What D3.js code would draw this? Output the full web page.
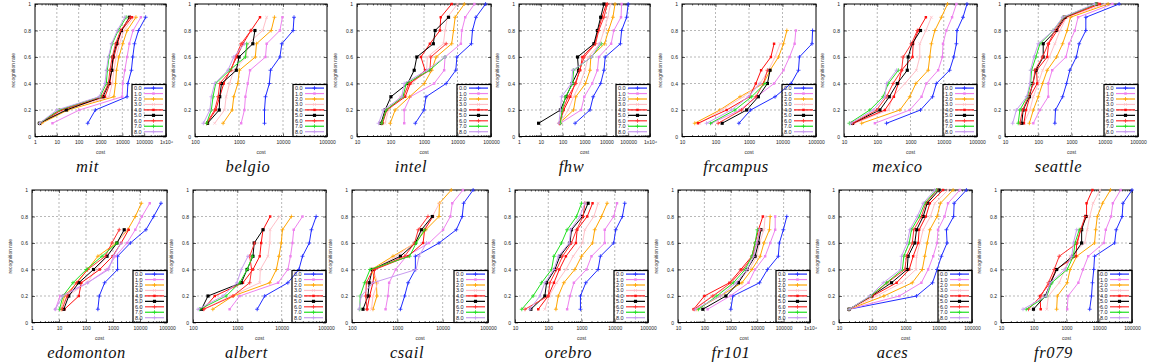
<!DOCTYPE html>
<html>
<head>
<meta charset="utf-8">
<script src="https://cdn.jsdelivr.net/npm/d3@7"></script>
<style>
  body { margin: 0; background: #fff; }
  svg { display: block; }
  .axis text { font-family: "Liberation Sans", Arial, sans-serif; font-size: 5px; fill: #222; }
  .axis path { display: none; }
  .axis line { stroke: #000; stroke-width: 0.6; }
  .axis-label { font-family: "Liberation Sans", Arial, sans-serif; font-size: 5px; fill: #333; }
  .legend text { font-family: "Liberation Sans", Arial, sans-serif; font-size: 5.5px; fill: #223; }
  .map-title { font-family: "Liberation Serif", "Times New Roman", serif; font-style: italic; font-size: 16.5px; fill: #111; letter-spacing: 0.6px; }
</style>
</head>
<body>
<div id="chart"></div>
<script>
// ---- data ----
const mapNames = ["mit", "belgio", "intel", "fhw", "frcampus", "mexico", "seattle",
                  "edomonton", "albert", "csail", "orebro", "fr101", "aces", "fr079"];
const seriesLabels = ["0.0", "1.0", "2.0", "3.0", "4.0", "5.0", "6.0", "7.0", "8.0"];
const rateLevels = [0.1, 0.2, 0.3, 0.4, 0.5, 0.6, 0.7, 0.8, 0.9, 1.0];
const yTicks = [0, 0.2, 0.4, 0.6, 0.8, 1];
const xDomains = [[1, 1e6], [100, 1e5], [10, 1e5], [1, 1e6], [10, 1e5], [10, 1e5], [10, 1e5],
                  [1, 1e5], [100, 1e5], [100, 1e5], [10, 1e5], [10, 1e6], [10, 1e5], [10, 1e5]];

// cost needed for each recognition rate (0.1, 0.2, ...), one row per series 0.0 .. 8.0
const mitCost = [
  [260, 580, 16500, 18000, 26000, 30000, 36000, 55000, 117000],
  [6.3, 107, 9800, 10500, 13000, 16500, 21000, 31000, 71000],
  [2, 32, 4100, 4900, 5400, 6900, 10500, 16500, 42000],
  [1.7, 23, 2450, 3450, 4100, 5200, 7400, 11700, 33000],
  [1.7, 16, 1600, 2700, 3200, 4100, 6000, 9100, 27500],
  [1.6, 27, 1300, 2450, 3300, 3700, 5400, 9100, 21000],
  [1.6, 13.5, 1150, 2300, 2700, 3450, 4900, 8300, 23000],
  [1.6, 12.6, 960, 1860, 2050, 2450, 3450, 6500, 15000],
  [1.6, 10, 870, 1600, 1860, 2300, 3200, 5900, 13000]
];
const belgioCost = [
  [3800, 3800, 4000, 4900, 5200, 8500, 9400, 17000, 17800],
  [1120, 1330, 1400, 1580, 1780, 4000, 4250, 8500, 9700],
  [435, 700, 760, 940, 1020, 2350, 2500, 5400, 6400],
  [280, 470, 510, 610, 760, 1450, 1580, 3450, 4250],
  [190, 295, 365, 450, 630, 890, 1230, 1870, 3000],
  [193, 355, 365, 400, 870, 1000, 2060, 2300],
  [183, 280, 335, 365, 660, 835, 1120, 1870],
  [183, 235, 257, 295, 610, 1400, 1500],
  [155, 218, 235, 280, 560, 760, 1330]
];
const intelCost = [
  [550, 1000, 1150, 4600, 8900, 9600, 26000, 28000, 35500, 69000],
  [257, 257, 390, 2000, 4000, 4250, 12600, 13500, 17000, 32000],
  [98, 138, 370, 1020, 1700, 2300, 6700, 7600, 8500, 16000],
  [69, 87, 195, 435, 1200, 1260, 3800, 4250, 5000, 10000],
  [58, 78, 275, 390, 1080, 810, 1500, 3000, 3160, 6700],
  [52, 69, 103, 325, 510, 610, 1900, 2150, 5400],
  [55, 74, 245, 350, 1500, 1600, 4600],
  [55, 74, 235, 295, 1450, 4250],
  [44, 62, 218, 257, 1200, 4250]
];
const fhwCost = [
  [370, 1780, 2500, 5500, 7800, 8900, 44000, 50000, 85000, 100000],
  [79, 700, 980, 2250, 3900, 4500, 16600, 22000, 47000, 50000],
  [72, 316, 400, 1120, 1780, 1950, 8300, 12600, 20000, 25000],
  [79, 178, 316, 630, 1050, 1480, 5000, 7800, 11700, 15500],
  [72, 112, 224, 370, 630, 800, 2950, 4200, 6300, 10000],
  [7.9, 79, 144, 270, 530, 480, 2700, 3900, 5500, 7800],
  [72, 100, 178, 400, 590, 980, 3200, 4500, 7800, 11000],
  [79, 95, 135, 290, 316, 2100, 5900],
  [67, 79, 89, 250, 290, 2100, 5000]
];
const frcampusCost = [
  [500, 1120, 6000, 18000, 30000, 32000, 76000, 79000],
  [76, 540, 1700, 5600, 10700, 16200, 23000, 25000],
  [24, 135, 540, 2700, 4250, 7600, 10700, 13500],
  [34, 150, 680, 2150, 3800, 6000, 8500],
  [30, 215, 1020, 1600, 2300, 4500, 5600],
  [158, 850, 1900, 3550, 4250],
  [120, 600, 1600, 2700, 3550],
  [71, 380, 1200, 3000],
  [54, 300, 950, 2150]
];
const mexicoCost = [
  [190, 2000, 4600, 6000, 15000, 20000, 24000, 25000, 38000, 50000],
  [85, 950, 2150, 3000, 6800, 9100, 9500, 12000, 17800, 24000],
  [34, 480, 950, 1450, 3400, 3800, 4250, 5400, 8500, 13000],
  [21, 215, 290, 680, 1500, 1900, 1900, 2900, 4250],
  [19, 170, 316, 430, 540, 1150, 1200, 1700, 2900],
  [18, 120, 230, 400, 800, 850, 1120, 2000],
  [18, 95, 190, 300, 540, 600, 1070, 1600],
  [14.5, 60, 150, 215, 430],
  [16, 76, 170, 190, 380]
];
const seattleCost = [
  [316, 330, 540, 710, 890, 1400, 1700, 2700, 2700, 27000],
  [71, 112, 200, 200, 263, 680, 850, 1260, 1580, 17000],
  [54, 71, 100, 135, 186, 355, 540, 740, 930, 12600],
  [37, 56, 71, 100, 135, 215, 316, 450, 710, 10000],
  [37, 43, 56, 93, 89, 186, 205, 370, 680, 7100],
  [32, 35, 54, 68, 85, 141, 141, 340, 630, 5600],
  [28, 34, 50, 71, 79, 135, 200, 316, 590, 6300],
  [25, 28, 47, 59, 63, 85, 112, 280, 560, 5400],
  [17, 22, 45, 56, 59, 74, 100, 280, 540, 5000]
];
const edomontonCost = [
  [275, 310, 490, 1480, 1480, 4400, 16600, 32000, 60000],
  [7.3, 11, 115, 600, 1230, 3300, 6700, 11800, 23000],
  [12, 16, 47, 115, 275, 1320, 3500, 6700, 11200],
  [11, 20, 115, 224, 600, 1400, 3100],
  [16, 54, 67, 320, 970, 2000, 3800],
  [15, 23, 54, 190, 600, 1400, 2600],
  [13, 20, 44, 115, 520, 910, 1700],
  [10.5, 14, 33, 103, 390, 1400],
  [7.3, 13.9, 115, 690, 1040, 2000]
];
const albertCost = [
  [2800, 4150, 13800, 24500, 29500, 42000, 47000, 60000],
  [670, 1130, 8300, 13800, 15800, 17500, 18700, 29500],
  [280, 800, 5400, 7600, 8700, 9800, 10400, 16600],
  [170, 730, 3200, 3300, 4900, 5400, 5500, 8900],
  [170, 310, 1340, 2250, 3200, 3450, 3800, 5500],
  [155, 218, 1230, 1660, 2250, 2400, 3800],
  [175, 800, 1900, 2100, 1900, 2450],
  [141, 560, 1130, 1660, 2200],
  [130, 475, 980, 1230, 1740]
];
const csailCost = [
  [1170, 1450, 1730, 2500, 2500, 8300, 20000, 27000, 29000, 47000],
  [550, 620, 660, 920, 1580, 5000, 10200, 14800, 16300, 28000],
  [290, 355, 345, 270, 800, 2500, 4250, 8300, 8500, 15500],
  [270, 290, 370, 290, 960, 2300, 3800, 5900, 8500],
  [215, 245, 290, 316, 1730, 3700, 4000, 6100],
  [175, 225, 240, 280, 1170, 2500, 3400, 5900],
  [215, 200, 208, 290, 1450, 2400, 2900, 4750],
  [148, 152, 190, 250, 1870, 2600, 4000],
  [143, 160, 290, 2600, 3000, 4400]
];
const orebroCost = [
  [930, 930, 1350, 3160, 3700, 9300, 10700, 17000, 20000],
  [370, 450, 590, 1410, 2000, 5000, 5000, 9300, 11700],
  [170, 200, 295, 630, 1000, 2150, 2500, 4000, 5900],
  [79, 107, 178, 340, 560, 1070, 1260, 2350, 3160],
  [50, 100, 148, 215, 340, 680, 740, 1480, 2150],
  [30, 79, 89, 158, 224, 450, 500, 1070, 1580],
  [20, 100, 112, 178, 270, 500, 710, 1120, 1260],
  [16, 35, 63, 126, 148, 250, 370, 710, 1000],
  [28, 56, 79, 148, 200, 430, 470, 890, 1260]
];
const fr101Cost = [
  [1000, 1200, 12300, 24500, 63000, 69000, 98000, 132000],
  [132, 950, 4700, 8300, 20000, 31000, 48000, 48000],
  [52, 400, 2650, 6300, 13000, 18000, 29000, 31000],
  [41, 190, 1700, 5100, 9600, 12300, 18000, 20000],
  [39, 100, 890, 2400, 6300, 8300, 11200, 16300],
  [87, 650, 1950, 4100, 8300, 11200, 13800],
  [41, 210, 1000, 2900, 6800, 9600, 13000],
  [60, 295, 1260, 3500, 6300, 8300, 10200],
  [45, 400, 1600, 4100, 7300, 9600, 12300]
];
const acesCost = [
  [20, 2150, 6500, 8900, 12000, 17800, 17000, 28000, 29000, 68000],
  [20, 650, 3000, 4800, 6800, 8900, 9500, 15000, 19000, 43000],
  [20, 224, 1600, 3200, 3800, 4500, 5400, 8900, 11200, 27000],
  [20, 135, 760, 2050, 2150, 2700, 3400, 5600, 7600, 19000],
  [20, 102, 540, 1290, 1700, 2400, 2570, 4100, 5400, 13500],
  [20, 95, 380, 1120, 1200, 1900, 2150, 3400, 4500, 10200],
  [20, 95, 280, 960, 1070, 1600, 1780, 3000, 4100, 8900],
  [20, 89, 270, 810, 890, 1290, 1510, 2570, 3800, 8500],
  [20, 85, 215, 710, 760, 1120, 1350, 2250, 3400, 7600]
];
const fr079Cost = [
  [5100, 5800, 6200, 6800, 7200, 29500, 33000, 50000, 53000, 100000],
  [1050, 1120, 2300, 3200, 4600, 13800, 15800, 23000, 26000, 45000],
  [500, 525, 1050, 1290, 2050, 7200, 7800, 8700, 12600, 22000],
  [250, 280, 600, 890, 1290, 3600, 4300, 5100, 6500, 10500],
  [163, 155, 316, 480, 1950, 2050, 2700, 4100, 4100, 6200],
  [98, 224, 330, 500, 1550, 2900, 2900, 3900],
  [69, 166, 280, 420, 600, 2150, 2700, 3700],
  [59, 250, 355, 1050, 1620, 1820, 2450],
  [47, 240, 316, 890, 1450, 1620, 2050]
];

const costsByMap = {
  mit: mitCost, belgio: belgioCost, intel: intelCost, fhw: fhwCost,
  frcampus: frcampusCost, mexico: mexicoCost, seattle: seattleCost,
  edomonton: edomontonCost, albert: albertCost, csail: csailCost,
  orebro: orebroCost, fr101: fr101Cost, aces: acesCost, fr079: fr079Cost
};

// ---- styles / layout ----
const seriesColors = ["#1f2bff", "#ee82ee", "#ffa500", "#ffc0c8", "#ff1010",
                      "#000000", "#ff3030", "#20e020", "#c89cf0"];
const seriesMarks = ["plus", "square", "plus", "times", "square", "square", "plus", "plus", "plus"];

const rowTop = [4, 190];
const plotH = 132.5;
const panelBoxes = [
  { left: 35, width: 131, row: 0 }, { left: 195, width: 132, row: 0 },
  { left: 357, width: 134, row: 0 }, { left: 519, width: 131, row: 0 },
  { left: 682, width: 134, row: 0 }, { left: 844, width: 133, row: 0 },
  { left: 1005, width: 133, row: 0 },
  { left: 32, width: 135, row: 1 }, { left: 193, width: 133, row: 1 },
  { left: 352, width: 136, row: 1 }, { left: 515, width: 133, row: 1 },
  { left: 678, width: 132, row: 1 }, { left: 839, width: 133, row: 1 },
  { left: 1001, width: 131, row: 1 }
];

const svg = d3.select("#chart").append("svg")
  .attr("width", 1166)
  .attr("height", 364);

function symbolFor(k) {
  const m = seriesMarks[k];
  if (m === "plus") return d3.symbol().type(d3.symbolPlus).size(6)();
  if (m === "times") return d3.symbol().type(d3.symbolTimes).size(6)();
  return d3.symbol().type(d3.symbolSquare).size(k === 5 ? 10 : 6)();
}

function drawMarks(sel, k) {
  const mark = seriesMarks[k];
  sel.attr("d", symbolFor(k))
    .attr("fill", mark === "square" ? seriesColors[k] : "none")
    .attr("stroke", seriesColors[k])
    .attr("stroke-width", mark === "square" ? 0 : 0.8);
}

const isDecade = t => Math.abs(Math.log10(t) - Math.round(Math.log10(t))) < 1e-9;
const xFormat = t => t >= 1e6 ? "1x10\u2076" : d3.format("d")(t);

mapNames.forEach((name, i) => {
  const box = panelBoxes[i];
  const g = svg.append("g")
    .attr("transform", `translate(${box.left},${rowTop[box.row]})`);

  const x = d3.scaleLog().domain(xDomains[i]).range([0, box.width]);
  const y = d3.scaleLinear().domain([0, 1]).range([plotH, 0]);

  const allTicks = x.ticks();
  const major = allTicks.filter(isDecade);
  const minor = allTicks.filter(t => !isDecade(t));

  // grid
  g.append("g").selectAll("line")
    .data(major.slice(1, -1))
    .join("line")
    .attr("x1", d => x(d)).attr("x2", d => x(d))
    .attr("y1", 0).attr("y2", plotH)
    .attr("stroke", "#9a9a9a").attr("stroke-width", 0.7)
    .attr("stroke-dasharray", "2,2");
  g.append("g").selectAll("line")
    .data(yTicks.slice(1, -1))
    .join("line")
    .attr("x1", 0).attr("x2", box.width)
    .attr("y1", d => y(d)).attr("y2", d => y(d))
    .attr("stroke", "#9a9a9a").attr("stroke-width", 0.7)
    .attr("stroke-dasharray", "2,2");

  // axes
  g.append("g").attr("class", "axis")
    .attr("transform", `translate(0,${plotH})`)
    .call(d3.axisBottom(x).tickValues(major).tickSize(-3).tickPadding(4).tickFormat(xFormat));
  g.append("g").attr("class", "axis")
    .attr("transform", `translate(0,${plotH})`)
    .call(d3.axisBottom(x).tickValues(minor).tickSize(-1.5).tickFormat(""));
  g.append("g").attr("class", "axis")
    .call(d3.axisTop(x).tickValues(major).tickSize(-3).tickFormat(""));
  g.append("g").attr("class", "axis")
    .call(d3.axisTop(x).tickValues(minor).tickSize(-1.5).tickFormat(""));
  g.append("g").attr("class", "axis")
    .call(d3.axisLeft(y).tickValues(yTicks).tickSize(-3).tickPadding(4)
      .tickFormat(d => (d === 0 || d === 1) ? d : d.toFixed(1)));
  g.append("g").attr("class", "axis")
    .attr("transform", `translate(${box.width},0)`)
    .call(d3.axisRight(y).tickValues(yTicks).tickSize(-3).tickFormat(""));

  // frame
  g.append("rect")
    .attr("width", box.width).attr("height", plotH)
    .attr("fill", "none").attr("stroke", "#000").attr("stroke-width", 1);

  // axis labels
  g.append("text").attr("class", "axis-label")
    .attr("x", box.width / 2).attr("y", plotH + 17)
    .attr("text-anchor", "middle")
    .text("cost");
  g.append("text").attr("class", "axis-label")
    .attr("transform", `translate(-20,${plotH / 2}) rotate(-90)`)
    .attr("text-anchor", "middle")
    .text("recognition rate");

  // series
  const line = d3.line().x(d => x(d.cost)).y(d => y(d.rate));
  costsByMap[name].forEach((costs, k) => {
    const pts = costs.map((c, j) => ({ cost: c, rate: rateLevels[j] }));
    g.append("path")
      .datum(pts)
      .attr("d", line)
      .attr("fill", "none")
      .attr("stroke", seriesColors[k])
      .attr("stroke-width", 1);
    g.append("g").selectAll("path")
      .data(pts)
      .join("path")
      .attr("transform", d => `translate(${x(d.cost)},${y(d.rate)})`)
      .call(drawMarks, k);
  });

  // legend
  const legW = 34, legH = 52;
  const leg = g.append("g").attr("class", "legend")
    .attr("transform", `translate(${box.width - legW},${plotH - legH})`);
  leg.append("rect")
    .attr("width", legW).attr("height", legH)
    .attr("fill", "none").attr("stroke", "#000").attr("stroke-width", 1.2);
  seriesLabels.forEach((lab, k) => {
    const ly = 3.6 + k * 5.45;
    leg.append("text").attr("x", 2).attr("y", ly + 2).text(lab);
    leg.append("line")
      .attr("x1", 12).attr("x2", 31).attr("y1", ly).attr("y2", ly)
      .attr("stroke", seriesColors[k]).attr("stroke-width", 1.2);
    leg.append("path")
      .attr("transform", `translate(21.5,${ly})`)
      .call(drawMarks, k);
  });

  // map title
  g.append("text").attr("class", "map-title")
    .attr("x", box.width / 2 - 13).attr("y", 168)
    .attr("text-anchor", "middle")
    .text(name);
});
</script>
</body>
</html>
